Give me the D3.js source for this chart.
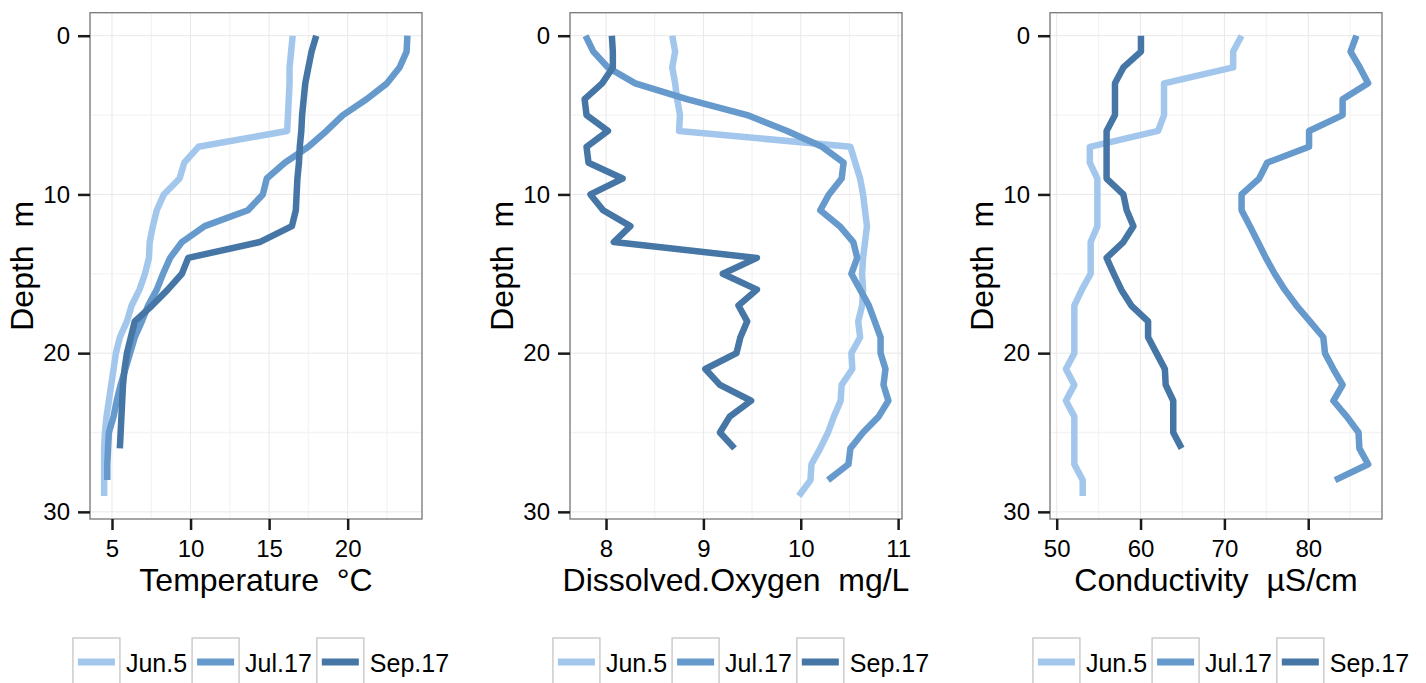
<!DOCTYPE html>
<html>
<head>
<meta charset="utf-8">
<script src="https://cdn.jsdelivr.net/npm/d3@7"></script>
<style>
body { margin: 0; background: #fff; }
svg { display: block; font-family: "Liberation Sans", Arial, sans-serif; }
text { white-space: pre; }
</style>
</head>
<body>
<svg id="chart" width="1426" height="683"></svg>
<script>
// depth of each reading, m
const depthJun = [0,1,2,3,4,5,6,7,8,9,10,11,12,13,14,15,16,17,18,19,20,21,22,23,24,25,26,27,28,29];
const depthJul = [0,1,2,3,4,5,6,7,8,9,10,11,12,13,14,15,16,17,18,19,20,21,22,23,24,25,26,27,28];
const depthSep = [0,1,2,3,4,5,6,7,8,9,10,11,12,13,14,15,16,17,18,19,20,21,22,23,24,25,26];

const dates = ["Jun.5", "Jul.17", "Sep.17"];
const colors = ["#a3c7ec", "#6699cc", "#4676a6"];

// temperature, °C
const tempJun = [16.5,16.4,16.3,16.3,16.25,16.2,16.15,10.5,9.6,9.3,8.3,7.85,7.6,7.4,7.35,7.1,6.75,6.25,5.95,5.5,5.25,5.1,4.95,4.8,4.65,4.55,4.5,4.5,4.5,4.5];
const tempJul = [23.8,23.75,23.3,22.5,21.2,19.7,18.65,17.5,16.0,14.85,14.6,13.65,10.9,9.45,8.7,8.25,7.85,7.3,6.9,6.45,6.15,5.85,5.55,5.3,5.1,4.8,4.75,4.7,4.7];
const tempSep = [18.0,17.7,17.5,17.3,17.2,17.1,17.05,16.95,16.9,16.8,16.75,16.7,16.45,14.4,9.85,9.45,8.55,7.55,6.45,6.2,5.95,5.8,5.7,5.65,5.6,5.55,5.5];

// dissolved oxygen, mg/L
const doJun = [8.68,8.71,8.68,8.71,8.73,8.76,8.75,10.51,10.56,10.61,10.64,10.66,10.68,10.66,10.64,10.63,10.64,10.63,10.59,10.61,10.52,10.53,10.42,10.41,10.34,10.28,10.2,10.11,10.1,9.98];
const doJul = [7.79,7.87,8.02,8.3,8.83,9.45,9.86,10.22,10.44,10.42,10.29,10.2,10.4,10.54,10.58,10.52,10.61,10.7,10.76,10.82,10.82,10.87,10.85,10.9,10.8,10.64,10.51,10.49,10.28];
const doSep = [8.06,8.07,8.07,7.96,7.78,7.8,8.02,7.8,7.82,8.17,7.84,7.97,8.25,8.08,9.55,9.2,9.55,9.36,9.45,9.38,9.34,9.02,9.17,9.49,9.27,9.17,9.32];

// conductivity, µS/cm
const condJun = [72.05,71.05,71.05,62.8,62.8,62.8,62.1,53.95,53.95,54.85,54.85,54.85,54.85,54.05,54.05,54.05,53.0,52.1,52.1,52.1,52.1,51.1,52.1,51.1,52.1,52.1,52.1,52.1,53.1,53.1];
const condJul = [85.75,85.05,86.15,87.15,84.1,84.1,80.1,80.1,75.1,74.15,72.05,72.05,73.05,74.0,74.95,76.0,77.2,78.6,80.2,81.8,82.0,83.0,84.1,83.0,84.6,86.0,86.1,87.15,83.2];
const condSep = [60.05,60.05,57.95,56.95,56.95,56.95,55.95,55.95,55.95,55.95,57.95,58.35,59.15,57.95,55.95,56.8,57.7,58.9,60.9,60.9,61.9,62.9,63.0,63.9,63.9,63.9,64.9];

const depthTicks = [0, 10, 20, 30];
const depthMinor = [5, 15, 25];
const tempTicks = [5, 10, 15, 20];
const tempMinor = [7.5, 12.5, 17.5, 22.5];
const doTicks = [8, 9, 10, 11];
const doMinor = [8.5, 9.5, 10.5];
const condTicks = [50, 60, 70, 80];
const condMinor = [55, 65, 75, 85];

const depths = [depthJun, depthJul, depthSep];

const panels = [
  { title: "Temperature  °C", left: 90, domain: [3.6, 24.73], ticks: tempTicks, minor: tempMinor, series: [tempJun, tempJul, tempSep] },
  { title: "Dissolved.Oxygen  mg/L", left: 570, domain: [7.63, 11.04], ticks: doTicks, minor: doMinor, series: [doJun, doJul, doSep] },
  { title: "Conductivity  µS/cm", left: 1050, domain: [49.2, 88.8], ticks: condTicks, minor: condMinor, series: [condJun, condJul, condSep] }
];

const W = 332, plotTop = 12.7, plotBottom = 519;
const svg = d3.select("#chart");
const fmt = d3.format("~g");

const y = d3.scaleLinear().domain([-1.45, 30.45]).range([plotTop, plotBottom]);

panels.forEach(p => {
  const x = d3.scaleLinear().domain(p.domain).range([p.left, p.left + W]);
  const g = svg.append("g");

  g.append("rect")
    .attr("x", p.left).attr("y", plotTop)
    .attr("width", W).attr("height", plotBottom - plotTop)
    .attr("fill", "#fff");

  // minor grid
  g.selectAll(".vmin").data(p.minor).join("line")
    .attr("x1", d => x(d)).attr("x2", d => x(d))
    .attr("y1", plotTop).attr("y2", plotBottom)
    .attr("stroke", "#f4f4f4").attr("stroke-width", 1.3);
  g.selectAll(".hmin").data(depthMinor).join("line")
    .attr("y1", d => y(d)).attr("y2", d => y(d))
    .attr("x1", p.left).attr("x2", p.left + W)
    .attr("stroke", "#f4f4f4").attr("stroke-width", 1.3);
  // major grid
  g.selectAll(".vmaj").data(p.ticks).join("line")
    .attr("x1", d => x(d)).attr("x2", d => x(d))
    .attr("y1", plotTop).attr("y2", plotBottom)
    .attr("stroke", "#e8e8e8").attr("stroke-width", 1);
  g.selectAll(".hmaj").data(depthTicks).join("line")
    .attr("y1", d => y(d)).attr("y2", d => y(d))
    .attr("x1", p.left).attr("x2", p.left + W)
    .attr("stroke", "#e8e8e8").attr("stroke-width", 1);

  // profiles
  const line = d3.line().x(d => x(d[0])).y(d => y(d[1]));
  p.series.forEach((vals, i) => {
    g.append("path")
      .datum(vals.map((v, j) => [v, depths[i][j]]))
      .attr("d", line)
      .attr("fill", "none")
      .attr("stroke", colors[i])
      .attr("stroke-width", 6.5)
      .attr("stroke-linejoin", "round");
  });

  g.append("rect")
    .attr("x", p.left).attr("y", plotTop)
    .attr("width", W).attr("height", plotBottom - plotTop)
    .attr("fill", "none").attr("stroke", "#7f7f7f").attr("stroke-width", 1.4);

  // axes
  const ya = g.append("g").attr("transform", `translate(${p.left},0)`)
    .call(d3.axisLeft(y).tickValues(depthTicks).tickFormat(fmt).tickSize(12).tickPadding(8));
  const xa = g.append("g").attr("transform", `translate(0,${plotBottom})`)
    .call(d3.axisBottom(x).tickValues(p.ticks).tickFormat(fmt).tickSize(11).tickPadding(10));
  [ya, xa].forEach(a => {
    a.select(".domain").remove();
    a.selectAll(".tick line").attr("stroke", "#1a1a1a").attr("stroke-width", 2.5);
    a.selectAll(".tick text").attr("fill", "#000").attr("font-size", 24)
      .attr("font-family", "Liberation Sans, Arial, sans-serif");
  });

  // titles
  const cx = p.left + W / 2;
  g.append("text")
    .attr("x", cx).attr("y", 591)
    .attr("text-anchor", "middle")
    .attr("font-size", 32)
    .text(p.title);
  g.append("text")
    .attr("transform", `translate(${p.left - 57},${(plotTop + plotBottom) / 2}) rotate(-90)`)
    .attr("text-anchor", "middle")
    .attr("font-size", 32)
    .text("Depth  m");

  // legend
  const lg = g.append("g");
  let off = 0;
  dates.forEach((name, i) => {
    const it = lg.append("g");
    it.append("rect")
      .attr("x", 0).attr("y", 638).attr("width", 47).attr("height", 48)
      .attr("fill", "#fff").attr("stroke", "#cccccc").attr("stroke-width", 1.5);
    it.append("line")
      .attr("x1", 5).attr("x2", 42).attr("y1", 662).attr("y2", 662)
      .attr("stroke", colors[i]).attr("stroke-width", 7);
    const t = it.append("text")
      .attr("x", 53).attr("y", 672)
      .attr("font-size", 25)
      .text(name);
    const w = 53 + t.node().getComputedTextLength();
    it.attr("transform", `translate(${off},0)`);
    off += w + 5;
  });
  const total = off - 5;
  lg.attr("transform", `translate(${cx + 5 - total / 2},0)`);
});
</script>
</body>
</html>
